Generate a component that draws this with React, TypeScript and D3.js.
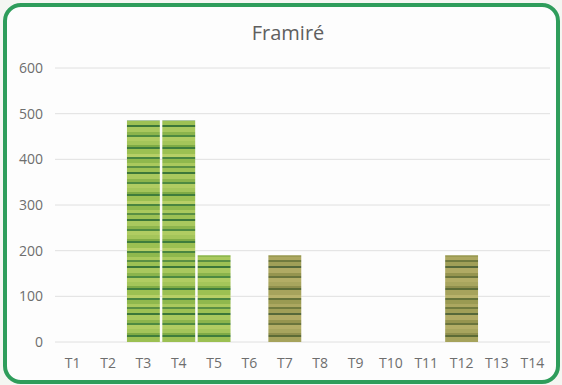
import React from "react";
import * as d3 from "d3";

const categories = ["T1","T2","T3","T4","T5","T6","T7","T8","T9","T10","T11","T12","T13","T14"];
const values = [0, 0, 485, 485, 190, 0, 190, 0, 0, 0, 0, 190, 0, 0];
const textures = ["g","g","g","g","g","g","o","g","g","g","g","o","g","g"];
const yTicks = [0, 100, 200, 300, 400, 500, 600];
const title = "Framiré";

const W = 562, H = 385;
const M = { left: 55, right: 12, top: 68, bottom: 43 };

// stripe palette (style only)
const greenStripes = [
  ["#a4c55a", 4], ["#7fab45", 2], ["#3f7d3c", 2], ["#9cc052", 5], ["#b7cf66", 3],
  ["#4a8540", 2], ["#8fb84d", 4], ["#aac95d", 3], ["#5a8f43", 2], ["#9dc154", 4],
  ["#3c7739", 2], ["#a9c85e", 5], ["#8bb44c", 3], ["#4e8a41", 2], ["#b0cc62", 4],
];
const oliveStripes = [
  ["#a8a55e", 4], ["#8f8f4d", 2], ["#5c6b36", 2], ["#a6a35c", 5], ["#b8b26b", 3],
  ["#66733a", 2], ["#9a9a52", 4], ["#aca760", 3], ["#717a3e", 2], ["#a09f58", 4],
  ["#56683a", 2], ["#b0aa64", 5], ["#95944f", 3], ["#6a743c", 2], ["#b3ad66", 4],
];

function Pattern({ id, stripes }: { id: string; stripes: any[] }) {
  const total = stripes.reduce((s, d) => s + d[1], 0);
  let acc = 0;
  return (
    <pattern id={id} patternUnits="userSpaceOnUse" width={40} height={total}>
      {stripes.map((s, i) => {
        const y = acc;
        acc += s[1];
        return <rect key={i} x={0} y={y} width={40} height={s[1]} fill={s[0]} />;
      })}
    </pattern>
  );
}

export default function App() {
  const x = d3.scaleBand<string>().domain(categories).range([M.left, W - M.right]).paddingInner(0.07).paddingOuter(0.035);
  const y = d3.scaleLinear().domain([0, 600]).range([H - M.bottom, M.top]);
  const font = "'Open Sans', sans-serif";
  return (
    <svg width={W} height={H} style={{ position: "absolute", left: 0, top: 0 }}>
      <defs>
        <Pattern id="pg" stripes={greenStripes} />
        <Pattern id="po" stripes={oliveStripes} />
      </defs>
      <rect x={0} y={0} width={W} height={H} fill="#f4f6f2" />
      <rect x={5} y={5} width={W - 9} height={H - 8} rx={16} ry={16} fill="#fdfdfd" stroke="#2e9d5b" strokeWidth={4} />
      <text x={288} y={40} textAnchor="middle" fontFamily={font} fontSize={20} fill="#5f5f5f">{title}</text>
      {yTicks.map((t) => (
        <g key={t}>
          <line x1={M.left} x2={W - M.right} y1={y(t)} y2={y(t)} stroke="#e0e0e0" strokeWidth={1} />
          <text x={43} y={y(t)} dy="0.35em" textAnchor="end" fontFamily={font} fontSize={14} fill="#6e6e6e">{t}</text>
        </g>
      ))}
      {categories.map((c, i) => (
        values[i] > 0 ? (
          <rect key={c} x={x(c)} y={y(values[i])} width={x.bandwidth()} height={y(0) - y(values[i])}
            fill={textures[i] === "o" ? "url(#po)" : "url(#pg)"} />
        ) : null
      ))}
      {categories.map((c) => (
        <text key={c} x={(x(c) as number) + x.bandwidth() / 2} y={368} textAnchor="middle" fontFamily={font} fontSize={14} fill="#6e6e6e">{c}</text>
      ))}
    </svg>
  );
}
